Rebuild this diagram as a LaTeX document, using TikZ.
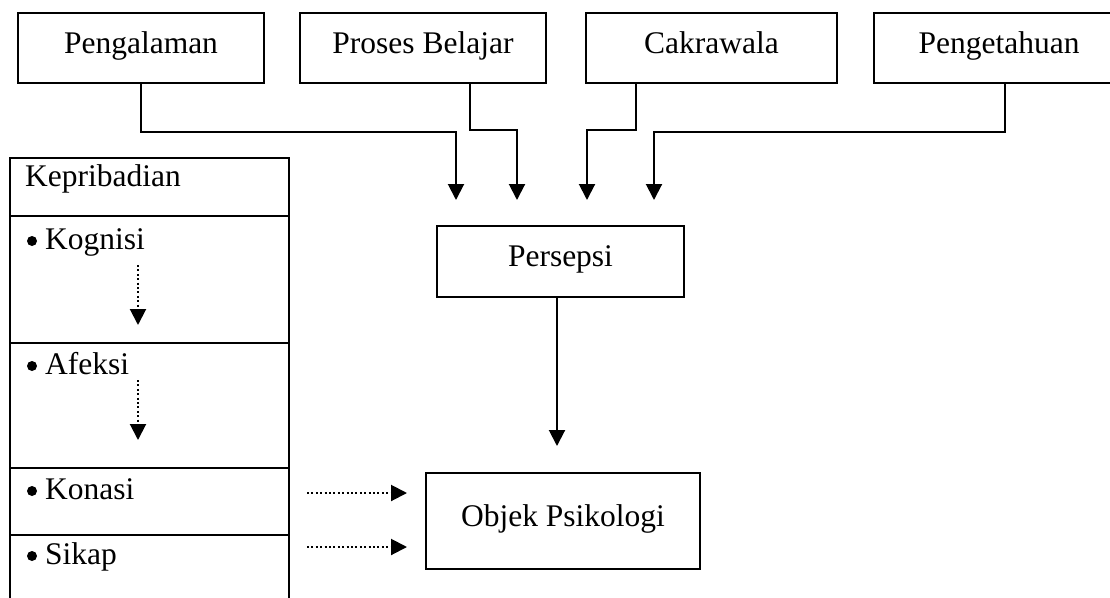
\documentclass[tikz,border=0pt]{standalone}
\usepackage{fontspec}
\setmainfont{Liberation Serif}
\usepackage{tikz}
\usetikzlibrary{arrows.meta,positioning}
\tikzstyle{box} = [draw, line width=2pt, minimum height=70pt, inner sep=0pt, text height=22pt, text depth=12pt]
\tikzstyle{frame} = [line width=2pt]
\tikzstyle{item} = [anchor=base west, inner sep=0pt]
\tikzstyle{flowarrow} = [line width=2pt, -{Triangle[length=16pt,width=16pt]}]
\tikzstyle{dotarrow} = [line width=2pt, dash pattern=on 2pt off 2.4pt, -{Triangle[length=16pt,width=16pt]}]

\begin{document}
\begin{tikzpicture}[x=1pt, y=-1pt, font=\fontsize{31.5}{36}\selectfont]
\useasboundingbox (0,0) rectangle (1110,597);
% top row
\node[box, minimum width=246pt] (pengalaman) at (141,48) {Pengalaman};
\node[box, minimum width=246pt] (proses) at (423,48) {Proses Belajar};
\node[box, minimum width=251pt] (cakrawala) at (711.5,48) {Cakrawala};
\node[box, minimum width=250pt] (pengetahuan) at (999,48) {Pengetahuan};

% middle
\node[box, minimum width=247pt, minimum height=71pt] (persepsi) at (560.5,261.5) {Persepsi};
\node[box, minimum width=274pt, minimum height=96pt] (objek) at (563,521) {Objek Psikologi};

% arrow ends above Persepsi
\coordinate (in1) at (456,200);
\coordinate (in2) at (517,200);
\coordinate (in3) at (587,200);
\coordinate (in4) at (654,200);

\draw[flowarrow] (pengalaman.south) -- ++(0,48) -| (in1);
\draw[flowarrow] ([xshift=47pt]proses.south) -- ++(0,46) -| (in2);
\draw[flowarrow] ([xshift=-75.5pt]cakrawala.south) -- ++(0,46) -| (in3);
\draw[flowarrow] ([xshift=6pt]pengetahuan.south) -- ++(0,48) -| (in4);
\draw[flowarrow, shorten >=26pt] ([xshift=-3.5pt]persepsi.south) -- ([xshift=-6pt]objek.north);

% Kepribadian column
\draw[frame] (10,620) -- (10,158) -- (289,158) -- (289,620);
\foreach \y in {216,343,468,535}
  \draw[frame] (10,\y) -- (289,\y);

\node[item] (kepribadian) at (25,186) {Kepribadian};
\node[item] (kognisi) at (45,249) {Kognisi};
\node[item] (afeksi) at (45,374) {Afeksi};
\node[item] (konasi) at (45,499) {Konasi};
\node[item] (sikap) at (45,564) {Sikap};
\foreach \n in {kognisi,afeksi,konasi,sikap}
  \fill ([xshift=-13pt, yshift=8pt]\n.base west) circle (5pt);

\coordinate (kog1) at (138,265);
\coordinate (kog2) at (138,325);
\coordinate (afe1) at (138,380);
\coordinate (afe2) at (138,440);
\draw[dotarrow] (kog1) -- (kog2);
\draw[dotarrow] (afe1) -- (afe2);

\coordinate (kon) at (307,493);
\coordinate (sik) at (307,547);
\draw[dotarrow, shorten >=18pt] (kon) -- (kon -| objek.west);
\draw[dotarrow, shorten >=18pt] (sik) -- (sik -| objek.west);
\end{tikzpicture}
\end{document}
